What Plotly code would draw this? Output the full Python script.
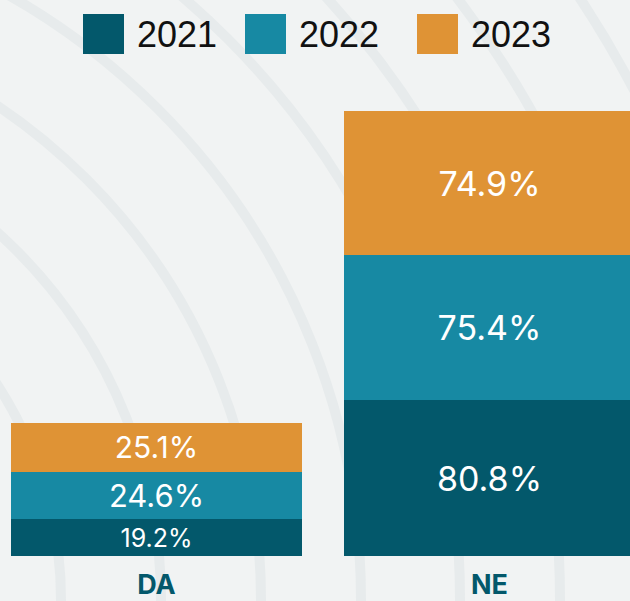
import plotly.graph_objects as go

categories = ["DA", "NE"]
years = ["2021", "2022", "2023"]
values_2021 = [19.2, 80.8]
values_2022 = [24.6, 75.4]
values_2023 = [25.1, 74.9]
series = [values_2021, values_2022, values_2023]

colors = ["#03586b", "#1789a3", "#df9335"]
label_sizes = [[25, 34], [31, 34], [30, 34]]

BG = "#f1f3f3"
ARC = "#e7ebec"

fig = go.Figure()
for yr, vals, col, sz in zip(years, series, colors, label_sizes):
    fig.add_trace(go.Bar(
        x=categories, y=vals, name=yr,
        marker=dict(color=col, line=dict(width=0)),
        width=0.874,
        text=[f"{v:.1f}%" for v in vals],
        textposition="inside", insidetextanchor="middle",
        constraintext="none",
        textfont=dict(color="white", size=sz, family="Inter, Roboto, sans-serif"),
        hoverinfo="skip", showlegend=False,
    ))

shapes = []
# decorative concentric arcs in the background
plot_w, plot_h, plot_bottom_px = 630, 445, 556
cx_px, cy_px = -334, 600
for r in [395, 495, 595, 695, 794, 894, 994, 1094]:
    shapes.append(dict(
        type="circle", xref="paper", yref="paper",
        xsizemode="pixel", ysizemode="pixel",
        xanchor=cx_px / plot_w, yanchor=(plot_bottom_px - cy_px) / plot_h,
        x0=-r, x1=r, y0=-r, y1=r,
        line=dict(color=ARC, width=10), fillcolor="rgba(0,0,0,0)",
        layer="below",
    ))

# manual legend with large swatches
annotations = []
legend_x = [83, 245, 417]
sq = 41
legend_yc = 34
for yr, col, lx in zip(years, colors, legend_x):
    shapes.append(dict(
        type="rect", xref="paper", yref="paper",
        xsizemode="pixel", ysizemode="pixel",
        xanchor=lx / plot_w, yanchor=(plot_bottom_px - legend_yc) / plot_h,
        x0=0, x1=sq, y0=-20, y1=20,
        line=dict(width=0), fillcolor=col, layer="above",
    ))
    annotations.append(dict(
        text=yr, xref="paper", yref="paper",
        x=(lx + sq + 11) / plot_w, y=(plot_bottom_px - legend_yc) / plot_h,
        xanchor="left", yanchor="middle", showarrow=False,
        font=dict(family="Liberation Sans, Arial, sans-serif", size=36, color="#111111"),
    ))

fig.update_layout(
    barmode="stack",
    width=630, height=601,
    margin=dict(l=0, r=0, t=111, b=45, pad=0),
    paper_bgcolor=BG, plot_bgcolor="rgba(0,0,0,0)",
    shapes=shapes, annotations=annotations,
    xaxis=dict(type="category", range=[-0.47, 1.422], showgrid=False,
               zeroline=False, showline=False, ticks="",
               tickfont=dict(family="Inter, Roboto, sans-serif", size=27, color="#03586b",
                             weight="bold"),
               ticklabelstandoff=10),
    yaxis=dict(range=[0, 231.1], visible=False, showgrid=False, zeroline=False),
)

fig.write_html("out.html",
               config={"displayModeBar": False},
               post_script="document.body.style.margin='0';document.body.style.overflow='hidden';")
